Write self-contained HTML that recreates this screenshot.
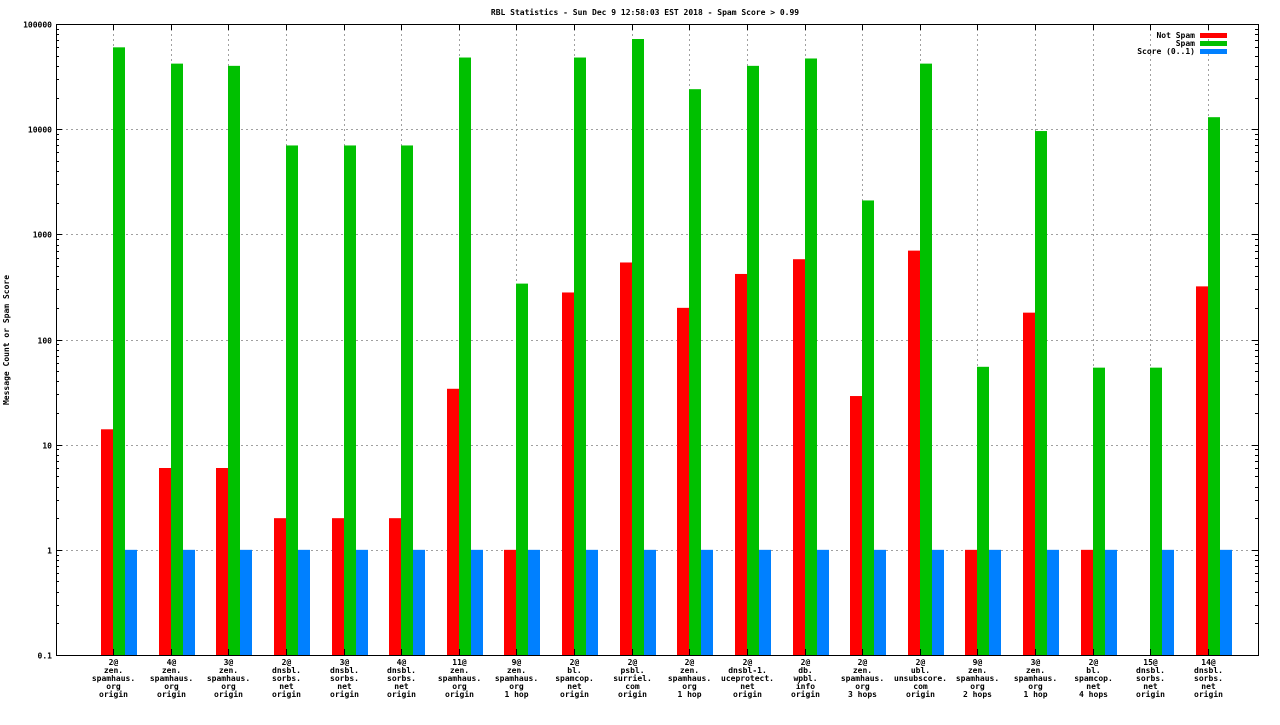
<!DOCTYPE html>
<html><head><meta charset="utf-8"><style>
body{margin:0;background:#fff;}
svg text{font-family:"DejaVu Sans Mono","Liberation Mono",monospace;font-size:8px;font-weight:bold;fill:#000;}
</style></head><body>
<svg id="chart" width="1280" height="720" xmlns="http://www.w3.org/2000/svg">
<text x="645" y="15" text-anchor="middle">RBL Statistics - Sun Dec  9 12:58:03 EST 2018 - Spam Score &gt; 0.99</text>
<text transform="translate(9,340) rotate(-90)" text-anchor="middle">Message Count or Spam Score</text>
<g id="grid"></g><g id="bars"></g><g id="axes"></g><g id="labels"></g>
<g>
<text x="1195" y="38" text-anchor="end">Not Spam</text><rect x="1200" y="33" width="27" height="5" fill="#ff0000"/>
<text x="1195" y="46" text-anchor="end">Spam</text><rect x="1200" y="41" width="27" height="5" fill="#00c000"/>
<text x="1195" y="54" text-anchor="end">Score (0..1)</text><rect x="1200" y="49" width="27" height="5" fill="#0080ff"/>
</g>
</svg>
<script>
const categories=[["2@","zen.","spamhaus.","org","origin"],["4@","zen.","spamhaus.","org","origin"],["3@","zen.","spamhaus.","org","origin"],["2@","dnsbl.","sorbs.","net","origin"],["3@","dnsbl.","sorbs.","net","origin"],["4@","dnsbl.","sorbs.","net","origin"],["11@","zen.","spamhaus.","org","origin"],["9@","zen.","spamhaus.","org","1 hop"],["2@","bl.","spamcop.","net","origin"],["2@","psbl.","surriel.","com","origin"],["2@","zen.","spamhaus.","org","1 hop"],["2@","dnsbl-1.","uceprotect.","net","origin"],["2@","db.","wpbl.","info","origin"],["2@","zen.","spamhaus.","org","3 hops"],["2@","ubl.","unsubscore.","com","origin"],["9@","zen.","spamhaus.","org","2 hops"],["3@","zen.","spamhaus.","org","1 hop"],["2@","bl.","spamcop.","net","4 hops"],["15@","dnsbl.","sorbs.","net","origin"],["14@","dnsbl.","sorbs.","net","origin"]];
const notSpam=[14,6,6,2,2,2,34,1,280,540,200,420,580,29,700,1,180,1,0,320];
const spam=[60000,42000,40000,7000,7000,7000,48000,340,48000,72000,24000,40000,47000,2100,42000,55,9600,54,54,13000];
const score=[1,1,1,1,1,1,1,1,1,1,1,1,1,1,1,1,1,1,1,1];
const yTicks=[0.1,1,10,100,1000,10000,100000];
const yTickLabels=["0.1","1","10","100","1000","10000","100000"];
const L=56,R=1258,T=24,B=655;
const ymin=-1,ymax=5;
function y(v){return B-(Math.log10(v)-ymin)/(ymax-ymin)*(B-T);}
function x(i){return 113+i*57.63;}
const NS="http://www.w3.org/2000/svg";
function mk(t,a,p){const e=document.createElementNS(NS,t);for(const k in a)e.setAttribute(k,a[k]);p.appendChild(e);return e;}
const grid=document.getElementById('grid'),bars=document.getElementById('bars'),axes=document.getElementById('axes'),labels=document.getElementById('labels');
yTicks.forEach((v,k)=>{
 const yy=Math.round(y(v))+0.5;
 if(k>0&&k<yTicks.length-1){const g=mk('line',{x1:L,x2:R,y1:yy,y2:yy,stroke:'#a0a0a0','stroke-dasharray':'2,3'},grid);
 
 }
 const t=mk('text',{x:L-4,y:yy+3,'text-anchor':'end'},axes);t.textContent=yTickLabels[k];
 
 
 mk('line',{x1:L,x2:L+6,y1:yy,y2:yy,stroke:'#000'},axes);
 mk('line',{x1:R-6,x2:R,y1:yy,y2:yy,stroke:'#000'},axes);
 if(k<yTicks.length-1){for(let m=2;m<10;m++){const ym=Math.round(y(v*m))+0.5;
  mk('line',{x1:L,x2:L+3,y1:ym,y2:ym,stroke:'#000'},axes);mk('line',{x1:R-3,x2:R,y1:ym,y2:ym,stroke:'#000'},axes);}}
});
categories.forEach((c,i)=>{
 const cx=Math.round(x(i))+0.5;
 const g=mk('line',{x1:cx,x2:cx,y1:T,y2:B,stroke:'#a0a0a0','stroke-dasharray':'2,3'},grid);
 
 
 mk('line',{x1:cx,x2:cx,y1:B-6,y2:B,stroke:'#000'},axes);
 mk('line',{x1:cx,x2:cx,y1:T,y2:T+6,stroke:'#000'},axes);
 const series=[[notSpam,'#ff0000','bar-not-spam',-12],[spam,'#00c000','bar-spam',0],[score,'#0080ff','bar-score',12]];
 series.forEach(s=>{const v=s[0][i];if(!(v>0))return;const top=y(v);
  const r=mk('rect',{x:Math.round(x(i))+s[3],y:top,width:12,height:B-top,fill:s[1]},bars);
  
  });
 c.forEach((ln,j)=>{const t=mk('text',{x:cx,y:665+j*8,'text-anchor':'middle'},labels);t.textContent=ln;
  
  });
});
const f=mk('rect',{x:L+0.5,y:T+0.5,width:R-L,height:B-T,fill:'none',stroke:'#000'},axes);


</script>
</body></html>
